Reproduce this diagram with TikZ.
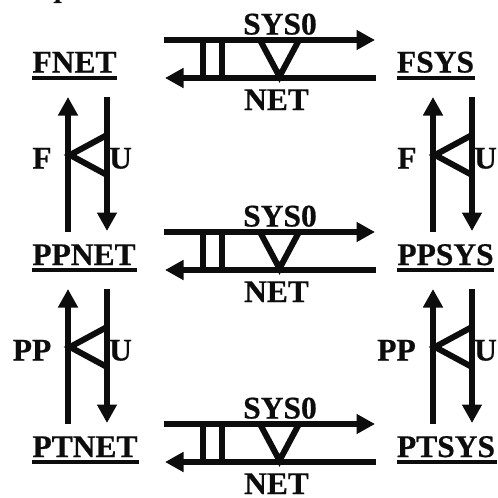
\documentclass[tikz,border=0pt]{standalone}
\usepackage{fontspec}
\usetikzlibrary{arrows.meta}
\setmainfont[BoldFeatures={FakeBold=0.6}]{Liberation Serif}
\definecolor{ink}{gray}{0.05}
\tikzset{
  every node/.style={inner sep=0pt,outer sep=0pt},
  lab/.style={font=\fontsize{31.5}{33}\selectfont\bfseries,text=ink,anchor=base},
  und/.style={line width=4pt,draw=ink},
  ln/.style={line width=6pt,draw=ink},
  arr/.style={ln,-{Triangle[length=18.5pt,width=19pt,sep=0pt]}},
  mark2/.style={line width=6pt,draw=ink,line join=miter,miter limit=10},
}
\begin{document}
\begin{tikzpicture}[x=1pt,y=-1pt]
\useasboundingbox (0,0) rectangle (498,498);
\clip (0,0) rectangle (498,498);
% cut-off fragment at the top edge
\fill[ink] (53.5,3) -- (61.5,3) -- (61.5,2) -- (59.5,1.5) -- (59.5,0) -- (55.5,0) -- (55.5,1.5) -- (53.5,2) -- cycle;
% object labels
\node[lab] (fnet) at (74.5,72.5) {FNET};
\node[lab] (fsys) at (435.5,72.5) {FSYS};
\node[lab] (ppnet) at (84,265) {PPNET};
\node[lab] (ppsys) at (445.5,265) {PPSYS};
\node[lab] (ptnet) at (85,457) {PTNET};
\node[lab] (ptsys) at (446,457) {PTSYS};
% underlines
\draw[und] (32,78) -- (117,78);
\draw[und] (397,78) -- (475,78);
\draw[und] (32,270) -- (137,270);
\draw[und] (397,270) -- (494,270);
\draw[und] (32,462) -- (139,462);
\draw[und] (397,462) -- (497,462);
% horizontal squares
\foreach \r/\yt/\yb in {a/40/78,b/232/270,c/424/462}{
  \coordinate (tl\r) at (164,\yt);
  \coordinate (tr\r) at (375,\yt);
  \coordinate (bl\r) at (165,\yb);
  \coordinate (br\r) at (376,\yb);
  \coordinate (va\r) at (260,\yt);
  \coordinate (vb\r) at (279.5,\yb-1.5);
  \coordinate (vc\r) at (299,\yt);
  \draw[arr] (tl\r) -- (tr\r);
  \draw[arr] (br\r) -- (bl\r);
  \draw[ln] (203,\yt) -- (203,\yb);
  \draw[ln] (222,\yt) -- (222,\yb);
  \draw[mark2] (va\r) -- (vb\r) -- (vc\r);
  \node[lab] (sys\r) at (280,\yt-5.5) {SYS0};
  \node[lab] (net\r) at (276.5,\yb+32) {NET};
}
% vertical pairs
\foreach \r/\xu/\xd/\yt/\yb/\tl/\lx in {a/68/107/97/232/F/42,b/433/472/97/232/F/407,c/68/107/289/424/PP/32,d/433/472/289/424/PP/396.5}{
  \coordinate (ub\r) at (\xu,\yb);
  \coordinate (ut\r) at (\xu,\yt);
  \coordinate (dt\r) at (\xd,\yt);
  \coordinate (db\r) at (\xd,\yb-1);
  \coordinate (ap\r) at (\xu+2,\yt+58);
  \coordinate (e1\r) at (\xd,\yt+38);
  \coordinate (e2\r) at (\xd,\yt+78);
  \draw[arr] (ub\r) -- (ut\r);
  \draw[arr] (dt\r) -- (db\r);
  \draw[mark2] (e1\r) -- (ap\r) -- (e2\r);
  \node[lab] (tl\r) at (\lx,\yt+71.5) {\tl};
  \node[lab] (u\r) at (\xd+13.5,\yt+71.5) {U};
}
\end{tikzpicture}
\end{document}
